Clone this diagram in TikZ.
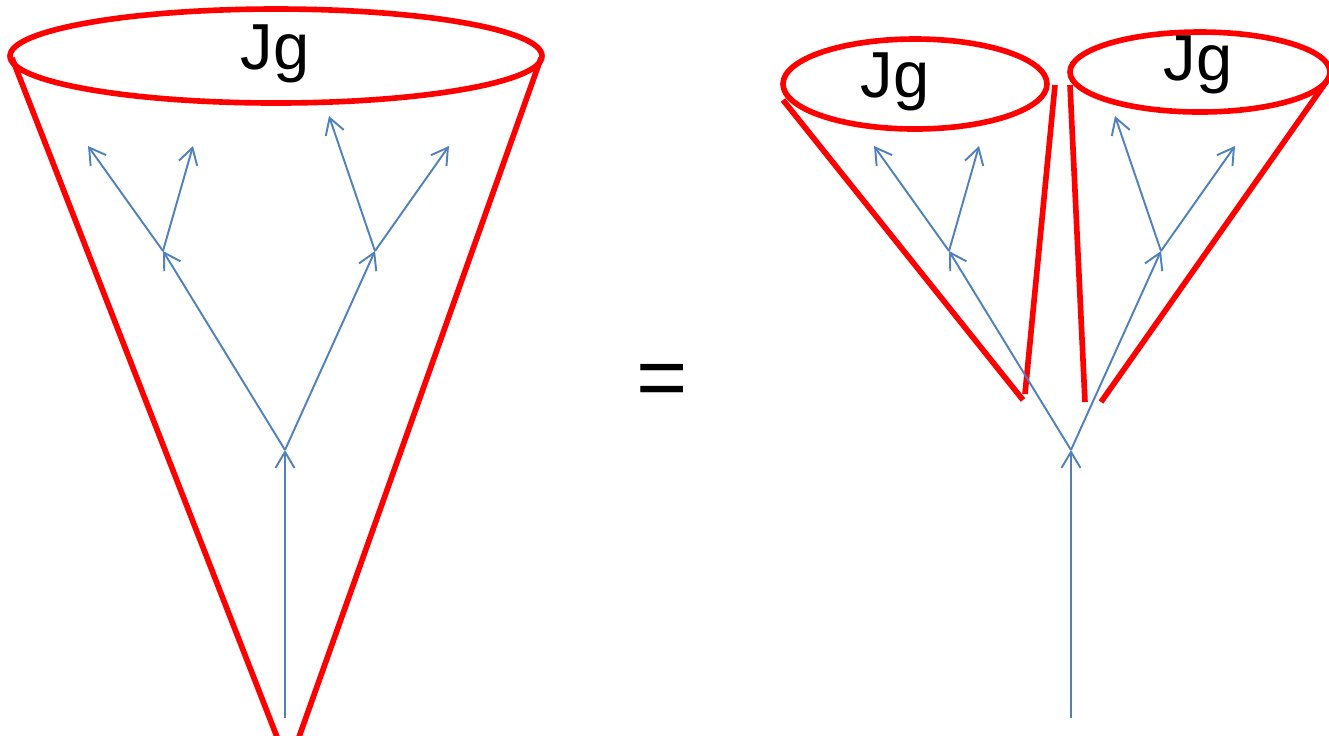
\documentclass[tikz,border=0pt]{standalone}
\usepackage{fontspec}
\setmainfont{Liberation Sans}
\usetikzlibrary{arrows.meta}
\definecolor{treeblue}{HTML}{4F81BD}

\begin{document}
\begin{tikzpicture}[x=0.01cm, y=-0.01cm,
    cone/.style={draw=red, line width=1.6pt},
    flow/.style={draw=treeblue, line width=0.55pt, -{Straight Barb[length=1.6mm, width=1.9mm]}},
    jglabel/.style={font=\fontsize{18.5}{22}\selectfont, inner sep=0pt}]
    \useasboundingbox (0,0) rectangle (1329,735);

    % Big cone (left)
    \coordinate (bigL) at (12,58);
    \coordinate (bigR) at (541,58);
    \coordinate (bigLb) at (277,737);
    \coordinate (bigRb) at (299,737);
    \draw[cone] (276,56) ellipse [x radius=266, y radius=47];
    \draw[cone] (bigL) -- (bigLb);
    \draw[cone] (bigR) -- (bigRb);
    \node[jglabel] (jgbig) at (275,53.5) {Jg};

    % Small cones (right)
    \coordinate (smaL) at (783,100);
    \coordinate (smaLb) at (1023,400);
    \coordinate (smaR) at (1055,85);
    \coordinate (smaRb) at (1025,394);
    \coordinate (smbL) at (1070,85);
    \coordinate (smbLb) at (1085,402);
    \coordinate (smbR) at (1331,75);
    \coordinate (smbRb) at (1101,402);
    \draw[cone] (915,84) ellipse [x radius=132, y radius=45];
    \draw[cone] (1200,72) ellipse [x radius=130, y radius=40];
    \draw[cone] (smaL) -- (smaLb);
    \draw[cone] (smaR) -- (smaRb);
    \draw[cone] (smbL) -- (smbLb);
    \draw[cone] (smbR) -- (smbRb);
    \node[jglabel] (jga) at (895,82) {Jg};
    \node[jglabel] (jgb) at (1198,64.5) {Jg};

    % Equals sign
    \node[font=\fontsize{25}{30}\selectfont, inner sep=0pt] (eq) at (662,386) {=};

    % Tree inside the big cone
    \coordinate (a0) at (285,718);
    \coordinate (a1) at (285,450);
    \coordinate (a2) at (163,251);
    \coordinate (a3) at (375,251);
    \coordinate (a4) at (88,146);
    \coordinate (a5) at (193,146);
    \coordinate (a6) at (329,116);
    \coordinate (a7) at (449,146);
    \draw[flow] (a0) -- (a1);
    \draw[flow] (a1) -- (a2);
    \draw[flow] (a1) -- (a3);
    \draw[flow] (a2) -- (a4);
    \draw[flow] (a2) -- (a5);
    \draw[flow] (a3) -- (a6);
    \draw[flow] (a3) -- (a7);

    % Same tree, split over the two small cones
    \coordinate (b0) at (1071,718);
    \coordinate (b1) at (1071,450);
    \coordinate (b2) at (949,251);
    \coordinate (b3) at (1161,251);
    \coordinate (b4) at (874,146);
    \coordinate (b5) at (979,146);
    \coordinate (b6) at (1115,116);
    \coordinate (b7) at (1235,146);
    \draw[flow] (b0) -- (b1);
    \draw[flow] (b1) -- (b2);
    \draw[flow] (b1) -- (b3);
    \draw[flow] (b2) -- (b4);
    \draw[flow] (b2) -- (b5);
    \draw[flow] (b3) -- (b6);
    \draw[flow] (b3) -- (b7);
\end{tikzpicture}
\end{document}
